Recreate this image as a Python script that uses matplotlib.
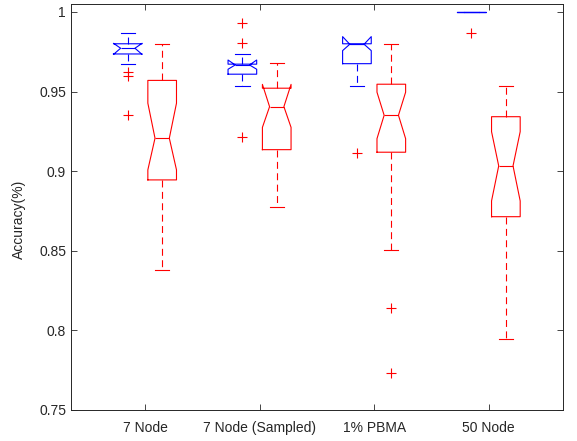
import matplotlib
matplotlib.use("Agg")
import matplotlib.pyplot as plt

plt.rcParams['font.family'] = ['Liberation Sans', 'DejaVu Sans']
plt.rcParams['lines.scale_dashes'] = False

groups = ["7 Node", "7 Node (Sampled)", "1% PBMA", "50 Node"]

# per-group box statistics: first series (blue), second series (red)
blue_whishi = [0.987, 0.9736, 0.980, 1.0]
blue_q3 = [0.980, 0.9672, 0.980, 1.0]
blue_cihi = [0.9803, 0.9698, 0.9845, 1.0]
blue_med = [0.9772, 0.9667, 0.9797, 1.0]
blue_cilo = [0.9733, 0.9640, 0.9757, 1.0]
blue_q1 = [0.9736, 0.9609, 0.9675, 1.0]
blue_whislo = [0.967, 0.9535, 0.9535, 1.0]
blue_fliers = [[0.962, 0.960, 0.935], [0.9933, 0.9807, 0.9217], [0.9112], [0.9866]]

red_whishi = [0.980, 0.9677, 0.9799, 0.9535]
red_q3 = [0.957, 0.9521, 0.9546, 0.9342]
red_cihi = [0.9427, 0.9545, 0.9496, 0.9248]
red_med = [0.9207, 0.9405, 0.9351, 0.9033]
red_cilo = [0.9008, 0.9275, 0.9204, 0.8813]
red_q1 = [0.8945, 0.9135, 0.9119, 0.8714]
red_whislo = [0.838, 0.8777, 0.8505, 0.7946]
red_fliers = [[], [], [0.8139, 0.773], []]


def make_stats(whishi, q3, cihi, med, cilo, q1, whislo, fliers):
    stats = []
    for i in range(len(med)):
        stats.append(dict(whishi=whishi[i], q3=q3[i], cihi=cihi[i], med=med[i],
                          cilo=cilo[i], q1=q1[i], whislo=whislo[i],
                          fliers=fliers[i]))
    return stats


def draw(ax, stats, positions, color):
    dash = (0, (5, 3.2))
    ax.bxp(stats, positions=positions, widths=0.25, capwidths=0.125,
           shownotches=True, patch_artist=False,
           boxprops=dict(color=color, linewidth=0.8),
           medianprops=dict(color=color, linewidth=0.8),
           whiskerprops=dict(color=color, linewidth=0.8, linestyle=dash),
           capprops=dict(color=color, linewidth=0.8),
           flierprops=dict(marker='+', markeredgecolor='#FF0000',
                           markersize=7, markeredgewidth=0.8, linestyle='none'),
           manage_ticks=False)


fig = plt.figure(figsize=(5.77, 4.41), dpi=100)
ax = fig.add_axes([0.123, 0.0703, 0.853, 0.9207])

pos = [1, 2, 3, 4]
draw(ax, make_stats(blue_whishi, blue_q3, blue_cihi, blue_med, blue_cilo,
                    blue_q1, blue_whislo, blue_fliers),
     [p - 0.15 for p in pos], '#0000FF')
draw(ax, make_stats(red_whishi, red_q3, red_cihi, red_med, red_cilo,
                    red_q1, red_whislo, red_fliers),
     [p + 0.15 for p in pos], '#FF0000')

ax.set_xlim(0.354, 4.65)
ax.set_ylim(0.75, 1.005)
ax.set_xticks(pos)
ax.set_xticklabels(groups)
ax.set_yticks([0.75, 0.8, 0.85, 0.9, 0.95, 1.0])
ax.set_yticklabels(["0.75", "0.8", "0.85", "0.9", "0.95", "1"])
ax.set_ylabel("Accuracy(%)", fontsize=10, color='#262626', labelpad=9)
ax.yaxis.set_label_coords(-0.092, 0.47)

ax.tick_params(direction='in', length=4, width=0.6, top=True, right=True,
               labelsize=10, colors='#262626')
ax.tick_params(axis='x', pad=8)
for s in ax.spines.values():
    s.set_linewidth(0.7)
    s.set_color('#262626')

fig.savefig("out.png", dpi=100)
